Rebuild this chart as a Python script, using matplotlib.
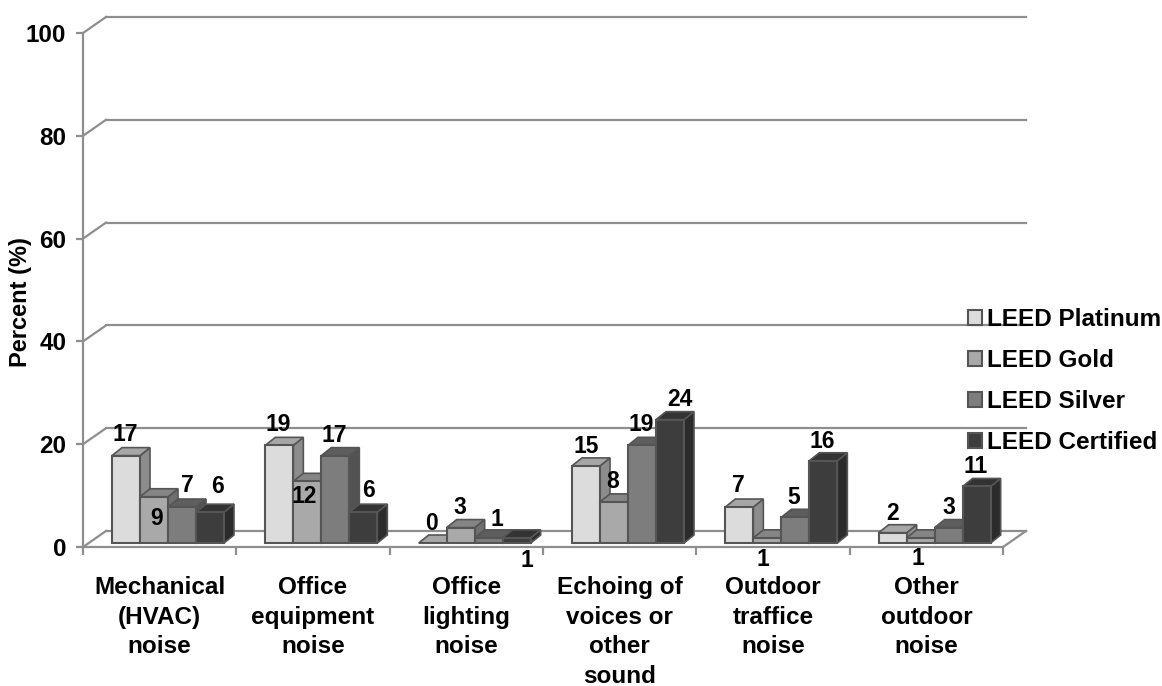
import numpy as np
import matplotlib
matplotlib.use('Agg')
import matplotlib.pyplot as plt
from matplotlib.patches import Patch, Polygon

plt.rcParams['font.family'] = ['Liberation Sans', 'DejaVu Sans']
plt.rcParams['font.weight'] = 'bold'

categories = ['Mechanical\n(HVAC)\nnoise', 'Office\nequipment\nnoise', 'Office\nlighting\nnoise',
              'Echoing of\nvoices or\nother\nsound', 'Outdoor\ntraffice\nnoise', 'Other\noutdoor\nnoise']
series_names = ['LEED Platinum', 'LEED Gold', 'LEED Silver', 'LEED Certified']
platinum = [17, 19, 0, 15, 7, 2]
gold = [9, 12, 3, 8, 1, 1]
silver = [7, 17, 1, 19, 5, 3]
certified = [6, 6, 1, 24, 16, 11]
y_ticks = [0, 20, 40, 60, 80, 100]

# label nudges from the front top centre of each bar, in pixels
nudge_platinum = [(-1, 21), (-1, 21), (-1, 19), (0, 19), (-1, 22), (0, 19)]
nudge_gold = [(3, -22), (-3, -15), (-1, 20), (-1, 20), (-4, -22), (-3, -21)]
nudge_silver = [(5, 22), (-1, 20), (8, 18), (-1, 21), (-2, 20), (0, 20)]
nudge_certified = [(8, 26), (5, 22), (10, -23), (10, 20), (-1, 19), (-1, 20)]

front = ['#dcdcdc', '#a9a9a9', '#7d7d7d', '#3d3d3d']
top = ['#a6a6a6', '#858585', '#5e5e5e', '#333333']
side = ['#8c8c8c', '#6f6f6f', '#525252', '#2b2b2b']
edge = '#555555'
grid_col = '#8e8e8e'

fig = plt.figure(figsize=(11.62, 6.86), dpi=100)
ax = fig.add_axes([83 / 1162, 1 - 547 / 686, 920 / 1162, 514 / 686])
ax.set_xlim(0, 6)
ax.set_ylim(0, 100)
ax.patch.set_visible(False)

px_x = 6 / 920
px_y = 100 / 514
wall_dx, wall_dy = 23 * px_x, 16 * px_y
depth_dx, depth_dy = 10 * px_x, 8 * px_y
lift = 4 * px_y
bar_w = 28 * px_x
start = 29 * px_x

# back wall and floor
for v in y_ticks:
    ax.plot([wall_dx, 6 + wall_dx], [v + wall_dy, v + wall_dy], color=grid_col, lw=1.6, clip_on=False, zorder=1)
    ax.plot([0, wall_dx], [v, v + wall_dy], color=grid_col, lw=1.6, clip_on=False, zorder=1)
ax.plot([6, 6 + wall_dx], [0, wall_dy], color=grid_col, lw=1.6, clip_on=False, zorder=1)

all_vals = [platinum, gold, silver, certified]
all_nudge = [nudge_platinum, nudge_gold, nudge_silver, nudge_certified]

for g in range(len(categories)):
    for s in range(4):
        val = all_vals[s][g]
        x0 = g + start + s * bar_w
        x1 = x0 + bar_w
        z = 3 + g + s * 0.1
        y1 = lift + val
        ax.add_patch(Polygon([(x1, lift), (x1 + depth_dx, lift + depth_dy), (x1 + depth_dx, y1 + depth_dy), (x1, y1)],
                             fc=side[s], ec=edge, lw=1.2, zorder=z, clip_on=False))
        ax.add_patch(Polygon([(x0, y1), (x0 + depth_dx, y1 + depth_dy), (x1 + depth_dx, y1 + depth_dy), (x1, y1)],
                             fc=top[s], ec=edge, lw=1.2, zorder=z, clip_on=False))
        ax.bar(x0, val, bar_w, bottom=lift, align='edge', color=front[s], edgecolor=edge, lw=1.5,
               zorder=z + 0.01, clip_on=False)
        dx, dy = all_nudge[s][g]
        ax.annotate(str(val), (x0 + bar_w / 2, y1), xytext=(dx, dy), textcoords='offset pixels',
                    ha='center', va='center', fontsize=16.5, zorder=20, annotation_clip=False)

for name in ['top', 'right']:
    ax.spines[name].set_visible(False)
for name in ['left', 'bottom']:
    ax.spines[name].set_color(grid_col)
    ax.spines[name].set_linewidth(1.6)

ax.set_yticks(y_ticks)
ax.set_xticks(np.arange(0, 7))
ax.set_xticklabels([])
ax.set_xticks(np.arange(6) + 0.5, categories, minor=True)
ax.tick_params(axis='y', length=5, width=1.6, color=grid_col, labelsize=17.5, pad=7)
ax.tick_params(axis='x', which='major', length=6, width=1.6, color=grid_col)
ax.tick_params(axis='x', which='minor', length=0, labelsize=17.5, pad=21)
for lab in ax.get_xticklabels(minor=True):
    lab.set_linespacing(1.36)
ax.set_ylabel('Percent (%)', fontsize=17, fontweight='bold')
ax.yaxis.set_label_coords((32 - 83) / 920, (547 - 302) / 514)

handles = [Patch(fc=front[i], ec=edge, lw=1.5) for i in range(4)]
fig.legend(handles, series_names, loc='upper left', bbox_to_anchor=(968 / 1162, 1 - 308 / 686),
           frameon=False, fontsize=17.5, handlelength=0.57, handleheight=0.57, handletextpad=0.2,
           labelspacing=0.74, borderpad=0, borderaxespad=0)

plt.savefig('out.png', dpi=100)
